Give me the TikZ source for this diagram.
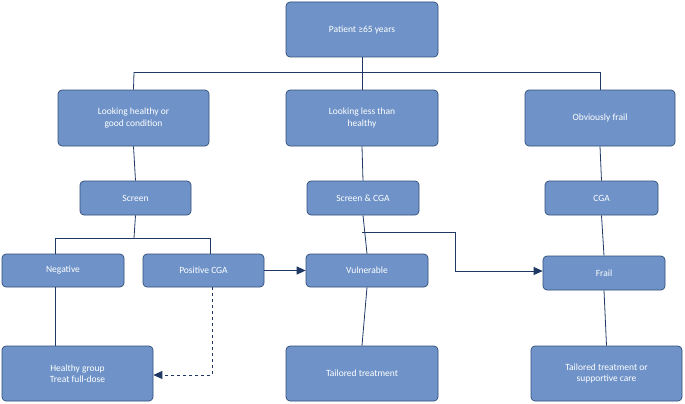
\documentclass[tikz,border=0pt]{standalone}
\usepackage{fontspec}
\setmainfont{Carlito}
\usetikzlibrary{arrows.meta}
\definecolor{boxfill}{HTML}{6F93C8}
\definecolor{boxdraw}{HTML}{2F4D7A}
\definecolor{ln}{HTML}{1F3864}
\begin{document}
\begin{tikzpicture}[x=1pt,y=-1pt,
  box/.style={draw=boxdraw,fill=boxfill,rounded corners=4pt,text=white,font=\fontsize{9.5}{11.5}\selectfont,align=center,inner sep=0pt,line width=0.7pt},
  con/.style={draw=ln,line width=0.8pt},
  arr/.style={con,-{Triangle[length=9pt,width=8pt]}}]
\useasboundingbox (0,0) rectangle (685,404);
\newcommand\bx[6]{\node[box,minimum width=#4-#2,minimum height=#5-#3] (#1) at ({(#2+#4)/2},{(#3+#5)/2}) {#6};}
\bx{p}{286}{2}{438}{57}{Patient ≥65 years}
\bx{h}{58}{90}{209}{146}{Looking healthy or\\good condition}
\bx{l}{286}{90}{438}{146}{Looking less than\\healthy}
\bx{o}{525}{90}{675}{146}{Obviously frail}
\bx{s}{80}{181}{191}{215}{Screen}
\bx{sc}{307}{181}{419}{215}{Screen \& CGA}
\bx{c}{545}{181}{658}{215}{CGA}
\bx{n}{2}{254}{124}{287}{Negative}
\bx{pc}{143}{254}{264}{287}{Positive CGA}
\bx{v}{306}{254}{428}{287}{Vulnerable}
\bx{f}{543}{256}{665}{290}{Frail}
\bx{hg}{2}{346}{153}{401}{Healthy group\\Treat full-dose}
\bx{t}{286}{346}{438}{401}{Tailored treatment}
\bx{ts}{531}{346}{682}{401}{Tailored treatment or\\supportive care}
\draw[con] (p.south) -- (362,72) (134,72) -- (600,72);
\draw[con] (134,72) -- (h.north);
\draw[con] (362,72) -- (l.north);
\draw[con] (600,72) -- (o.north);
\draw[con] (h.south) -- (s.north);
\draw[con] (l.south) -- (sc.north);
\draw[con] (o.south) -- (c.north);
\draw[con] (s.south) -- (134,238);
\draw[con] (55,238) -- (210,238);
\draw[con] (55,238) -- (55,254);
\draw[con] (210,238) -- (210,254);
\draw[con] (55,287) -- (55,346);
\draw[con] (sc.south) -- (v.north);
\draw[con] (v.south) -- (t.north);
\draw[con] (c.south) -- (f.north);
\draw[con] (f.south) -- (ts.north);
\draw[arr] (pc.east) -- (v.west);
\coordinate (b1) at (362,232);
\draw[arr] (b1) -- (455,232) -- (455,271) -- (f.west |- 0,271);
\draw[arr,dashed] (212,287) -- (212,375) -- (hg.east |- 0,375);
\end{tikzpicture}
\end{document}
